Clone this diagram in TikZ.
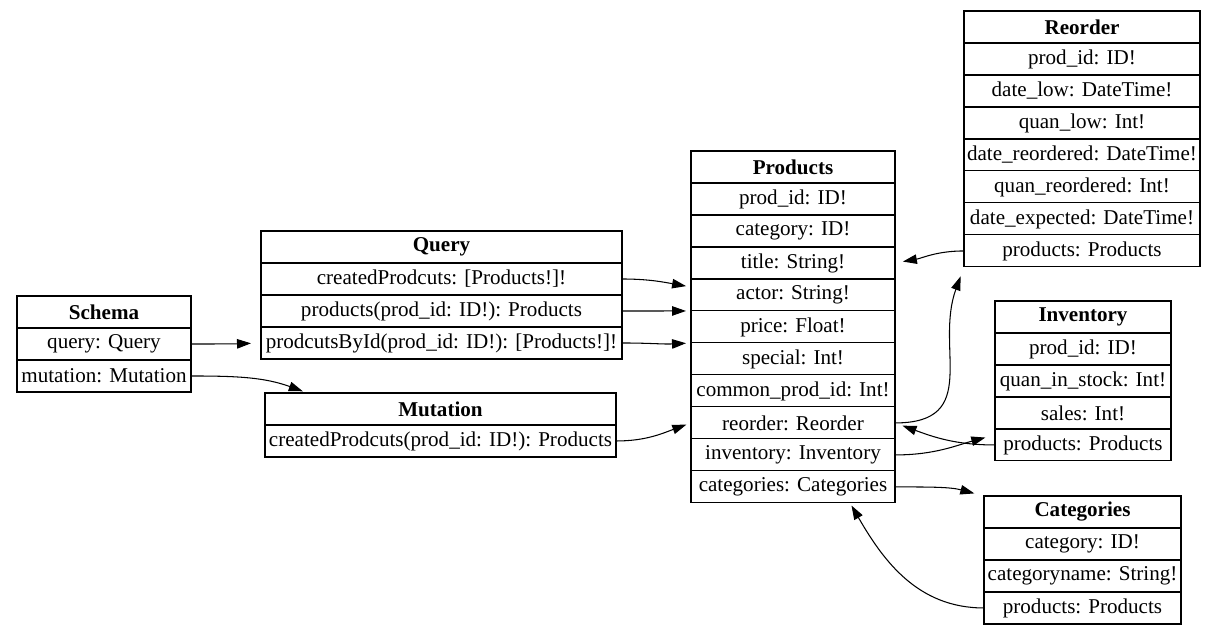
\documentclass[tikz,border=0pt]{standalone}
\usepackage{fontspec}
\setmainfont{Liberation Serif}
\usetikzlibrary{positioning,arrows.meta}
\begin{document}
\begin{tikzpicture}[x=0.02cm, y=-0.02cm,
    every node/.style={draw, line width=0.6pt, inner sep=0pt, outer sep=0pt,
      minimum height=0.64cm, font=\fontsize{12}{13}\selectfont},
    hd/.style={font=\fontsize{12}{13}\selectfont\bfseries, anchor=north west},
    colw/.style={minimum width=#1*0.02cm},
    link/.style={-{Triangle[length=0.28cm,width=0.19cm]}, line width=0.6pt}]
    \useasboundingbox (0,0) rectangle (1217,635);
    % Schema
    \node[hd, colw=174] (sch) at (17,296) {Schema};
    \node[colw=174, below=0pt of sch] (sch-q) {query: Query};
    \node[colw=174, below=0pt of sch-q] (sch-m) {mutation: Mutation};
    % Query
    \node[hd, colw=361] (qry) at (261,231) {Query};
    \node[colw=361, below=0pt of qry] (qry-c) {createdProdcuts: [Products!]!};
    \node[colw=361, below=0pt of qry-c] (qry-p) {products(prod\_id: ID!): Products};
    \node[colw=361, below=0pt of qry-p] (qry-b) {prodcutsById(prod\_id: ID!): [Products!]!};
    % Mutation
    \node[hd, colw=351] (mut) at (265,393) {Mutation};
    \node[colw=351, below=0pt of mut] (mut-c) {createdProdcuts(prod\_id: ID!): Products};
    % Products
    \node[hd, colw=204] (prd) at (691,151) {Products};
    \node[colw=204, below=0pt of prd] (prd-id) {prod\_id: ID!};
    \node[colw=204, below=0pt of prd-id] (prd-cat) {category: ID!};
    \node[colw=204, below=0pt of prd-cat] (prd-ti) {title: String!};
    \node[colw=204, below=0pt of prd-ti] (prd-ac) {actor: String!};
    \node[colw=204, below=0pt of prd-ac] (prd-pr) {price: Float!};
    \node[colw=204, below=0pt of prd-pr] (prd-sp) {special: Int!};
    \node[colw=204, below=0pt of prd-sp] (prd-co) {common\_prod\_id: Int!};
    \node[colw=204, below=0pt of prd-co] (prd-re) {reorder: Reorder};
    \node[colw=204, below=0pt of prd-re] (prd-in) {inventory: Inventory};
    \node[colw=204, below=0pt of prd-in] (prd-cs) {categories: Categories};
    % Reorder
    \node[hd, colw=236] (reo) at (964,11) {Reorder};
    \node[colw=236, below=0pt of reo] (reo-id) {prod\_id: ID!};
    \node[colw=236, below=0pt of reo-id] (reo-dl) {date\_low: DateTime!};
    \node[colw=236, below=0pt of reo-dl] (reo-ql) {quan\_low: Int!};
    \node[colw=236, below=0pt of reo-ql] (reo-dr) {date\_reordered: DateTime!};
    \node[colw=236, below=0pt of reo-dr] (reo-qr) {quan\_reordered: Int!};
    \node[colw=236, below=0pt of reo-qr] (reo-de) {date\_expected: DateTime!};
    \node[colw=236, below=0pt of reo-de] (reo-p) {products: Products};
    % Inventory
    \node[hd, colw=176] (inv) at (995,301) {Inventory};
    \node[colw=176, below=0pt of inv] (inv-id) {prod\_id: ID!};
    \node[colw=176, below=0pt of inv-id] (inv-qs) {quan\_in\_stock: Int!};
    \node[colw=176, below=0pt of inv-qs] (inv-sa) {sales: Int!};
    \node[colw=176, below=0pt of inv-sa] (inv-p) {products: Products};
    % Categories
    \node[hd, colw=197] (cts) at (984,496) {Categories};
    \node[colw=197, below=0pt of cts] (cts-c) {category: ID!};
    \node[colw=197, below=0pt of cts-c] (cts-n) {categoryname: String!};
    \node[colw=197, below=0pt of cts-n] (cts-p) {products: Products};
    % links
    \path[link]
        (sch-q.east) edge[out=0, in=182, shorten >=0.2cm] (qry-b.west)
        (sch-m.east) edge[out=0, in=160, shorten >=0.1cm] ([xshift=-2.66cm]mut.north)
        (qry-c.east) edge[out=0, in=170, shorten >=0.1cm] ([yshift=-0.16cm]prd-ac.north west)
        (qry-p.east) edge[out=0, in=180, shorten >=0.1cm] (prd-pr.north west)
        (qry-b.east) edge[out=0, in=183, shorten >=0.1cm] (prd-pr.south west)
        (mut-c.east) edge[out=0, in=200, shorten >=0.1cm] (prd-re.west)
        (reo-p.west) edge[out=180, in=10, shorten >=0.16cm] (prd-ti.east)
        (prd-re.east) edge[out=0, in=-110, looseness=1.3, shorten >=0.2cm] (reo-p.south west)
        (inv-p.west) edge[out=180, in=-20, shorten >=0.16cm] (prd-re.east)
        (prd-in.east) edge[out=0, in=195, shorten >=0.2cm] ([yshift=0.2cm]inv-p.west)
        (prd-cs.east) edge[out=0, in=165, shorten >=0.2cm] (cts.north west)
        (cts-p.west) edge[out=180, in=-60, shorten >=0.06cm] ([xshift=1.14cm]prd-cs.south);
\end{tikzpicture}
\end{document}
